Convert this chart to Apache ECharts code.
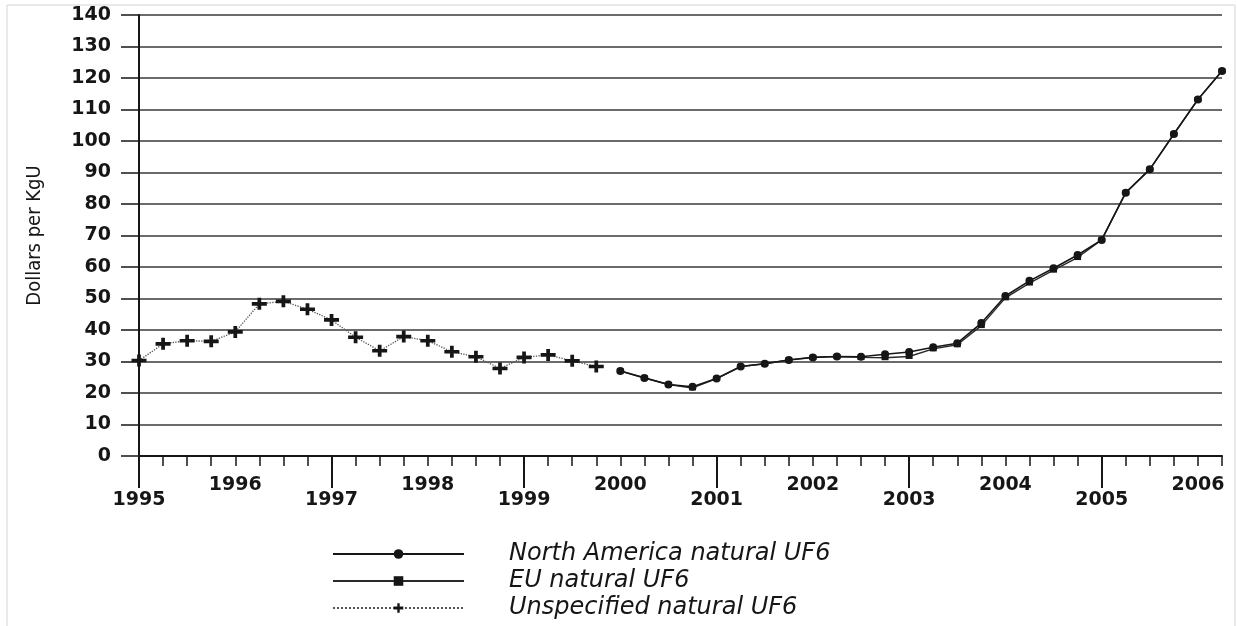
<!DOCTYPE html>
<html>
<head>
<meta charset="utf-8">
<title>Natural UF6 prices</title>
<script src="https://cdn.jsdelivr.net/npm/echarts@6/dist/echarts.min.js"></script>
<style>
  html, body { margin: 0; padding: 0; background: #fff; }
  #main { width: 1237px; height: 626px; }
</style>
</head>
<body>
<div id="main"></div>
<script>
// years shown on the axis, one category per quarter
const yearLabels = ['1995', '1996', '1997', '1998', '1999', '2000', '2001', '2002', '2003', '2004', '2005', '2006'];
const quarterNames = ['Q1', 'Q2', 'Q3', 'Q4'];

// Dollars per KgU, quarterly
// unspecified: 1995 Q1 .. 1999 Q4
const unspecified = [30.3, 35.6, 36.6, 36.4, 39.4, 48.3, 49.1, 46.6, 43.2, 37.7,
    33.4, 37.9, 36.6, 33.1, 31.5, 27.8, 31.3, 32.1, 30.2, 28.4];
// North America and EU: 2000 Q1 .. 2006 Q2
const northAmerica = [27.0, 24.8, 22.7, 22.0, 24.6, 28.4, 29.3, 30.5, 31.3, 31.6,
    31.5, 32.3, 33.0, 34.5, 35.8, 42.2, 50.8, 55.6, 59.6, 63.8,
    68.6, 83.6, 91.0, 102.2, 113.2, 122.2];
const euNatural = [27.0, 24.8, 22.7, 21.6, 24.6, 28.4, 29.3, 30.5, 31.3, 31.6,
    31.3, 31.2, 31.6, 34.0, 35.3, 41.4, 50.2, 54.9, 59.0, 63.0,
    68.6, 83.6, 91.0, 102.2, 113.2, 122.2];

const categories = [];
yearLabels.forEach(y => quarterNames.forEach(q => categories.push(y + ' ' + q)));
categories.splice(46); // axis stops at 2006 Q2

const euStart = categories.indexOf('2000 Q1');
const pad = (arr, start) => {
    const out = new Array(categories.length).fill(null);
    arr.forEach((v, i) => { out[start + i] = v; });
    return out;
};

const ink = '#161616';
const numFont = { fontFamily: 'DejaVu Sans', fontWeight: 'bold', fontSize: 19, color: ink };
const plusPath = 'path://M0,3.5h12v3h-12z M4.5,0h3v10h-3z';

const myChart = echarts.init(document.getElementById('main'), null, { renderer: 'canvas' });

const option = {
    animation: false,
    backgroundColor: '#fff',
    graphic: [{
        type: 'rect',
        shape: { x: 7, y: 5, width: 1228, height: 640 },
        style: { fill: 'none', stroke: '#d4d4d4', lineWidth: 1 },
        silent: true
    }],
    grid: { left: 139, right: 15, top: 15, bottom: 170 },
    legend: {
        orient: 'vertical',
        left: 327,
        top: 537,
        height: 120,
        itemWidth: 131,
        itemHeight: 12,
        itemGap: 3,
        data: ['North America natural UF6', 'EU natural UF6', 'Unspecified natural UF6'],
        textStyle: {
            fontFamily: 'DejaVu Sans',
            fontStyle: 'italic',
            fontSize: 24,
            lineHeight: 22,
            color: ink,
            padding: [0, 0, 0, 40]
        }
    },
    xAxis: [
        {
            // small quarterly ticks, odd-year labels on the lower row
            type: 'category',
            position: 'bottom',
            data: categories,
            boundaryGap: false,
            axisLine: { lineStyle: { color: ink, width: 2 } },
            axisTick: { interval: 0, length: 10, lineStyle: { color: ink, width: 1.5 } },
            axisLabel: {
                ...numFont,
                margin: 35,
                interval: (i) => i % 8 === 0,
                formatter: (v) => v.slice(0, 4)
            },
            splitLine: { show: false }
        },
        {
            // long ticks every two years, even-year labels on the upper row
            type: 'category',
            position: 'bottom',
            data: categories,
            boundaryGap: false,
            axisLine: { show: false },
            axisTick: { interval: (i) => i % 8 === 0, length: 32, lineStyle: { color: ink, width: 2 } },
            axisLabel: {
                ...numFont,
                margin: 20,
                interval: (i) => i % 8 === 4,
                formatter: (v) => v.slice(0, 4)
            },
            splitLine: { show: false }
        }
    ],
    yAxis: {
        type: 'value',
        min: 0,
        max: 140,
        interval: 10,
        name: 'Dollars per KgU',
        nameLocation: 'middle',
        nameRotate: 90,
        nameGap: 94,
        nameTextStyle: {
            fontFamily: "'DejaVu Sans Condensed', 'Liberation Sans', sans-serif",
            fontSize: 20,
            color: ink
        },
        axisLine: { show: true, lineStyle: { color: ink, width: 2 } },
        axisTick: { show: true, length: 18, lineStyle: { color: ink, width: 1.5 } },
        axisLabel: { ...numFont, margin: 28 },
        splitLine: { lineStyle: { color: '#3a3a3a', width: 1.6 } }
    },
    series: [
        {
            name: 'Unspecified natural UF6',
            type: 'line',
            data: pad(unspecified, 0),
            symbol: plusPath,
            symbolSize: [15, 12],
            itemStyle: { color: ink },
            lineStyle: { color: '#555', width: 1.3, type: 'dotted' }
        },
        {
            name: 'EU natural UF6',
            type: 'line',
            data: pad(euNatural, euStart),
            symbol: 'rect',
            symbolSize: [7, 5],
            itemStyle: { color: ink },
            lineStyle: { color: '#2a2a2a', width: 1.4 }
        },
        {
            name: 'North America natural UF6',
            type: 'line',
            data: pad(northAmerica, euStart),
            symbol: 'circle',
            symbolSize: 8,
            itemStyle: { color: ink },
            lineStyle: { color: ink, width: 1.6 }
        }
    ]
};

myChart.setOption(option);
</script>
</body>
</html>
